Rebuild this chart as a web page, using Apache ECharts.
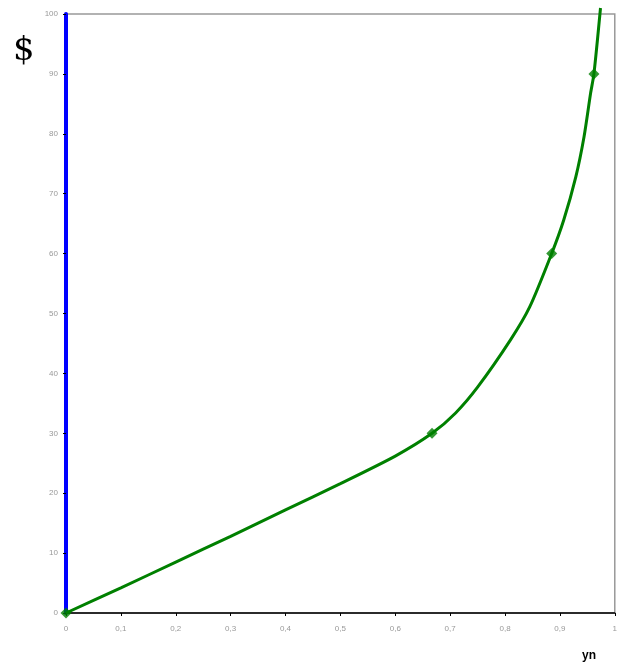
<!DOCTYPE html>
<html>
<head>
<meta charset="utf-8">
<script src="https://cdn.jsdelivr.net/npm/echarts@6/dist/echarts.min.js"></script>
<style>
  html, body { margin: 0; padding: 0; background: #fff; }
  #chart { width: 620px; height: 668px; }
</style>
</head>
<body>
<div id="chart"></div>
<script>
// curve (x = yn, y = $)
const curveX = [0, 0.1, 0.2, 0.3, 0.4, 0.5, 0.6, 0.667, 0.71, 0.75, 0.81, 0.845, 0.885, 0.907, 0.929, 0.944, 0.956, 0.962, 0.974]
const curveY = [0, 4.2, 8.5, 12.8, 17.2, 21.6, 26.2, 30, 33.4, 37.7, 45.6, 51.1, 60, 65.6, 72.8, 79.5, 86.8, 90, 101]
// marked points on the curve
const markX = [0, 0.667, 0.885, 0.962]
const markY = [0, 30, 60, 90]

const chart = echarts.init(document.getElementById('chart'))

// decimal comma like the original
const comma = (v) => String(Math.round(v * 10) / 10).replace('.', ',')

chart.setOption({
  animation: false,
  grid: {
    left: 66, right: 4, top: 14, bottom: 55,
    show: true,
    borderColor: '#999',
    borderWidth: 1.5
  },
  xAxis: {
    type: 'value',
    min: 0, max: 1, interval: 0.1,
    splitLine: { show: false },
    axisLine: { lineStyle: { color: '#000', width: 1.5 } },
    axisTick: { show: true, length: 3, lineStyle: { color: '#000' } },
    axisLabel: { color: '#999', fontSize: 8, margin: 12, formatter: comma }
  },
  yAxis: {
    type: 'value',
    min: 0, max: 100, interval: 10,
    splitLine: { show: false },
    axisLine: { show: true, lineStyle: { color: '#0000ff', width: 4 } },
    axisTick: { show: true, length: 3, lineStyle: { color: '#000' } },
    axisLabel: { color: '#999', fontSize: 8, margin: 8 }
  },
  graphic: [
    { type: 'text', left: 13, top: 34, style: { text: '$', font: '34px "DejaVu Serif"', fill: '#000' } },
    { type: 'text', left: 582, top: 650, style: { text: 'yn', font: 'bold 12px "Liberation Sans"', fill: '#000' } }
  ],
  series: [
    {
      type: 'line',
      data: curveX.map((x, i) => [x, curveY[i]]),
      smooth: 0.25,
      clip: false,
      showSymbol: false,
      lineStyle: { color: '#008000', width: 3 }
    },
    {
      type: 'scatter',
      data: markX.map((x, i) => [x, markY[i]]),
      symbol: 'diamond',
      symbolSize: 11,
      clip: false,
      itemStyle: { color: '#008000' }
    }
  ]
})
</script>
</body>
</html>
